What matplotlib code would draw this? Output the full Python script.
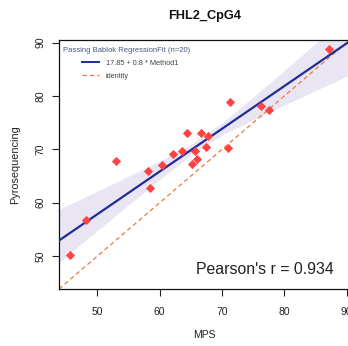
import matplotlib
matplotlib.use("Agg")
import matplotlib.pyplot as plt
from matplotlib.lines import Line2D

plt.rcParams['font.family'] = ['Liberation Sans', 'DejaVu Sans']

# Data
mps = [45.6, 48.1, 53.0, 58.1, 58.5, 60.3, 62.2, 63.6, 64.3, 65.2,
       65.7, 66.0, 66.6, 67.4, 67.7, 71.0, 71.3, 76.2, 77.5, 87.1]
pyro = [50.3, 56.8, 67.8, 66.0, 62.7, 67.1, 69.1, 69.6, 73.0, 67.3,
        69.7, 68.2, 73.0, 70.5, 72.5, 70.3, 78.9, 78.1, 77.3, 88.8]

intercept = 17.85
slope = 0.8

# Confidence band read at several x positions
band_x = [43.84, 50, 55, 60, 65, 70, 75, 80, 85, 90.53]
band_upper = [58.75, 62.17, 64.97, 67.81, 70.88, 74.95, 79.78, 84.77, 89.80, 95.37]
band_lower = [48.80, 54.77, 59.58, 64.34, 68.89, 72.65, 75.55, 78.29, 81.00, 83.98]

xlim = (43.84, 90.53)
ylim = (43.84, 90.53)
xticks = [50, 60, 70, 80, 90]
yticks = [50, 60, 70, 80, 90]

title = "FHL2_CpG4"
pearson_r = 0.934
n = 20

W, H = 348, 346
fig = plt.figure(figsize=(W / 100, H / 100), dpi=100)
ax = fig.add_axes([59 / W, (H - 289) / H, 291 / W, 249.3 / H])

ax.fill_between(band_x, band_lower, band_upper, color="#E9E5F3", lw=0, zorder=1)
ax.plot(list(xlim), [xlim[0], xlim[1]], color="#EA7A3C", lw=0.9,
        ls=(0, (3.5, 2.5)), zorder=2)
ax.plot(list(xlim), [intercept + slope * xlim[0], intercept + slope * xlim[1]],
        color="#1F2E96", lw=1.6, zorder=3)
ax.scatter(mps, pyro, marker="D", s=22, color="#FF4242", lw=0, zorder=4)

ax.set_xlim(*xlim)
ax.set_ylim(*ylim)
ax.set_xticks(xticks)
ax.set_yticks(yticks)
ax.tick_params(axis="both", direction="out", length=5, width=0.8,
               labelsize=7.5, colors="#222222")
ax.tick_params(axis="x", pad=8)
ax.tick_params(axis="y", pad=5)
for lab in ax.get_yticklabels():
    lab.set_rotation(90)
    lab.set_va("center")
for s in ax.spines.values():
    s.set_linewidth(0.9)
    s.set_color("#111111")

ax.set_xlabel("MPS", fontsize=7.5, color="#222222", labelpad=9)
ax.set_ylabel("Pyrosequencing", fontsize=7.8, color="#222222", labelpad=11)
fig.text(204.5 / W, 1 - 15.5 / H, title, ha="center", va="center",
         fontsize=9.2, fontweight="bold", color="#111111")

ax.text((334 - 59) / 291, (289 - 269) / 249.3, f"Pearson's r = {pearson_r}",
        transform=ax.transAxes, ha="right", va="center", fontsize=11.4,
        color="#222222")

# Legend title and entries
fig.text(63 / W, 1 - 50.7 / H, f"Passing Bablok RegressionFit (n={n})",
         ha="left", va="center", fontsize=5.5, color="#4B5580")
handles = [Line2D([], [], color="#1F2E96", lw=1.4),
           Line2D([], [], color="#EA7A3C", lw=0.9, ls=(0, (3.5, 2.5)))]
labels = [f"{intercept} + {slope} * Method1", "identity"]
leg = ax.legend(handles, labels, loc="upper left", fontsize=5.3,
                frameon=False, handlelength=2.3, borderpad=0.0,
                borderaxespad=0.0, labelspacing=0.8, handletextpad=0.95,
                bbox_to_anchor=(82 / W, 1 - 59.5 / H),
                bbox_transform=fig.transFigure)
for t in leg.get_texts():
    t.set_color("#444444")

fig.savefig("out.png", dpi=100)
